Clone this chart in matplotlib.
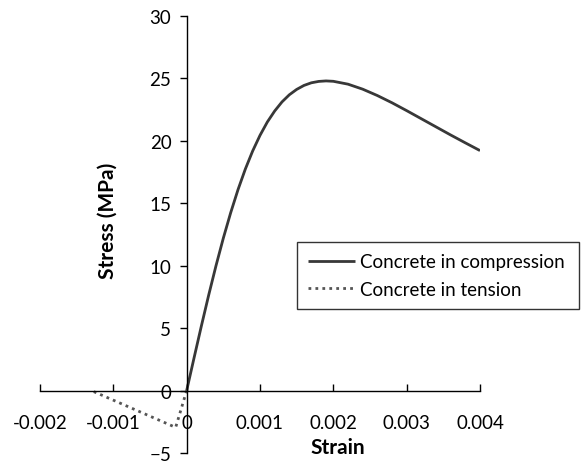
import matplotlib
matplotlib.use("Agg")
import matplotlib.pyplot as plt

plt.rcParams['font.family'] = ['Lato', 'DejaVu Sans']

comp_strain = [0, 0.0001, 0.0002, 0.0003, 0.0004, 0.0005, 0.0006, 0.0007, 0.0008,
               0.0009, 0.001, 0.0011, 0.0012, 0.0013, 0.0014, 0.0015, 0.0016, 0.0017,
               0.0018, 0.0019, 0.002, 0.0022, 0.0024, 0.0026, 0.0028, 0.003, 0.0032,
               0.0034, 0.0036, 0.0038, 0.004]
comp_stress = [0, 2.60, 5.16, 7.64, 10.00, 12.21, 14.24, 16.09, 17.74,
               19.19, 20.44, 21.51, 22.39, 23.12, 23.69, 24.12, 24.44, 24.65,
               24.76, 24.80, 24.77, 24.54, 24.14, 23.63, 23.05, 22.42, 21.77,
               21.12, 20.47, 19.84, 19.22]

tens_strain = [0, -0.00015, -0.0013]
tens_stress = [0, -2.95, 0]

xticks = [-0.002, -0.001, 0, 0.001, 0.002, 0.003, 0.004]
xticklabels = ['-0.002', '-0.001', '0', '0.001', '0.002', '0.003', '0.004']
yticks = [-5, 0, 5, 10, 15, 20, 25, 30]

W, H = 587, 464
fig = plt.figure(figsize=(W / 100, H / 100), dpi=100)
ax = fig.add_axes([40 / W, 1 - 454 / H, (480 - 40) / W, (454 - 17) / H])

line_col = '#383838'
ax.plot(comp_strain, comp_stress, color=line_col, lw=2.0, solid_capstyle='butt',
        label='Concrete in compression')
ax.plot(tens_strain, tens_stress, color='#555555', lw=2.0, linestyle=(0, (1, 1.5)),
        dash_capstyle='butt', label='Concrete in tension')

ax.set_xlim(-0.002, 0.004)
ax.set_ylim(-5, 30)

for s in ['top', 'right']:
    ax.spines[s].set_visible(False)
ax.spines['left'].set_position(('data', 0))
ax.spines['bottom'].set_position(('data', 0))
ax.spines['left'].set_linewidth(1.0)
ax.spines['bottom'].set_linewidth(1.0)

ax.set_xticks(xticks)
ax.set_xticklabels(xticklabels)
ax.set_yticks(yticks)
ax.tick_params(axis='x', direction='in', length=5, width=1.0, labelsize=13.5, pad=17)
ax.tick_params(axis='y', direction='out', length=5, width=1.0, labelsize=13.5, pad=6)
ax.patch.set_alpha(0)

fig.text(338 / W, 1 - 448 / H, 'Strain', ha='center', va='center',
         fontsize=15, fontweight='bold')
fig.text(108 / W, 1 - 221 / H, 'Stress (MPa)', ha='center', va='center',
         rotation=90, fontsize=15, fontweight='bold')

leg = fig.legend(loc='upper left', bbox_to_anchor=(297 / W, 1 - 305 / H, 282 / W, 62 / H),
                 mode='expand', fontsize=13.5, frameon=True, fancybox=False,
                 handlelength=2.5, borderaxespad=0, borderpad=0.6, labelspacing=0.55,
                 handletextpad=0.25)
leg.get_frame().set_edgecolor('black')
leg.get_frame().set_linewidth(1.0)

fig.savefig('out.png', dpi=100)
